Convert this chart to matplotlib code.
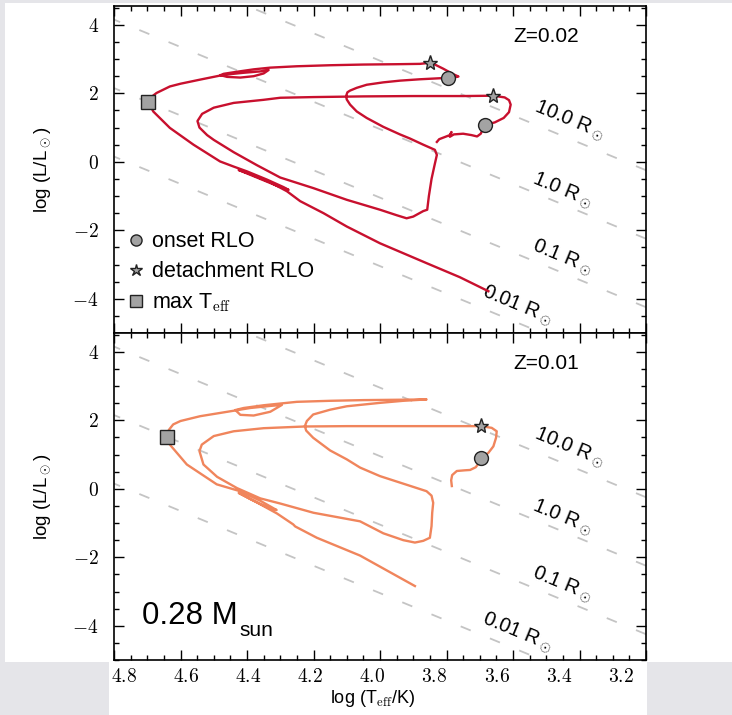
import numpy as np
import matplotlib
matplotlib.use("Agg")
import matplotlib.pyplot as plt
from matplotlib.lines import Line2D
from matplotlib.patches import Rectangle
from matplotlib.ticker import MultipleLocator, FuncFormatter

plt.rcParams['font.family'] = ['Liberation Sans', 'DejaVu Sans']
plt.rcParams['mathtext.fontset'] = 'cm'

# ---- Z=0.02 track (log Teff, log L), in order of evolution ----
teff_02 = [3.829, 3.822, 3.806, 3.790, 3.785, 3.790, 3.778, 3.750, 3.725, 3.708, 3.697, 3.690, 3.684,
           3.655, 3.628, 3.612, 3.607, 3.612, 3.625, 3.659,
           3.750, 3.900, 4.050, 4.200, 4.300, 4.350, 4.440, 4.500, 4.535, 4.549, 4.543,
           4.520, 4.500, 4.440, 4.370, 4.300, 4.200, 4.100, 4.000, 3.950, 3.920, 3.900, 3.870, 3.858,
           3.853, 3.845, 3.836, 3.829, 3.835, 3.870, 3.910, 3.940, 3.990, 4.040, 4.070, 4.090, 4.100, 4.102,
           4.098, 4.090, 4.070, 4.040, 3.990, 3.940, 3.880, 3.820, 3.795,
           3.775, 3.764, 3.780, 3.810, 3.835, 3.850,
           3.880, 3.950, 4.050, 4.150, 4.250, 4.330,
           4.380, 4.430, 4.470, 4.480, 4.460, 4.420, 4.380, 4.350, 4.335, 4.360, 4.410, 4.460, 4.480,
           4.541, 4.600, 4.632, 4.672, 4.692, 4.697,
           4.690, 4.682, 4.632, 4.561, 4.481, 4.440, 4.400, 4.340, 4.290, 4.275, 4.310, 4.370, 4.410, 4.425,
           4.390, 4.330, 4.280, 4.240, 4.200, 4.170, 4.100, 4.000, 3.860, 3.760, 3.674]
logl_02 = [0.58, 0.66, 0.72, 0.78, 0.87, 0.73, 0.80, 0.82, 0.78, 0.74, 0.82, 0.97, 1.08,
           1.15, 1.28, 1.45, 1.67, 1.80, 1.88, 1.93,
           1.92, 1.92, 1.91, 1.89, 1.87, 1.81, 1.72, 1.58, 1.40, 1.19, 1.00,
           0.78, 0.64, 0.28, -0.10, -0.46, -0.77, -1.11, -1.40, -1.56, -1.65, -1.60, -1.44, -1.40,
           -1.00, -0.50, -0.10, 0.20, 0.35, 0.50, 0.68, 0.80, 1.02, 1.28, 1.47, 1.67, 1.82, 1.92,
           2.03, 2.08, 2.16, 2.25, 2.32, 2.37, 2.41, 2.44, 2.45,
           2.47, 2.49, 2.56, 2.72, 2.84, 2.89,
           2.86, 2.85, 2.84, 2.82, 2.79, 2.75,
           2.70, 2.63, 2.57, 2.53, 2.48, 2.46, 2.50, 2.58, 2.68, 2.64, 2.60, 2.55, 2.52,
           2.40, 2.28, 2.20, 2.01, 1.86, 1.76,
           1.62, 1.47, 0.99, 0.50, 0.01, -0.14, -0.28, -0.52, -0.74, -0.82, -0.70, -0.46, -0.30, -0.24,
           -0.36, -0.60, -0.86, -1.15, -1.35, -1.50, -1.89, -2.38, -2.96, -3.37, -3.78]

# ---- Z=0.01 track ----
teff_01 = [3.784, 3.786, 3.783, 3.769, 3.745, 3.729, 3.712, 3.703, 3.697,
           3.674, 3.659, 3.651, 3.649, 3.664, 3.696,
           3.800, 3.950, 4.100, 4.226, 4.350, 4.440, 4.500, 4.536, 4.543,
           4.531, 4.490, 4.430, 4.360, 4.300, 4.200, 4.060, 3.990, 3.930, 3.895, 3.870, 3.850,
           3.845, 3.843, 3.840, 3.845, 3.860,
           3.930, 4.000, 4.060, 4.100, 4.150, 4.201, 4.222, 4.226,
           4.220, 4.201, 4.150, 4.100, 4.000, 3.930, 3.860,
           3.950, 4.050, 4.150, 4.250, 4.290,
           4.350, 4.410, 4.435, 4.420, 4.380, 4.330, 4.295, 4.330, 4.390, 4.440,
           4.541, 4.600, 4.622, 4.635, 4.642,
           4.640, 4.632, 4.581, 4.491, 4.421, 4.360, 4.311, 4.330, 4.390, 4.425,
           4.370, 4.310, 4.261, 4.255, 4.190, 4.060, 3.895]
logl_01 = [0.08, 0.25, 0.40, 0.52, 0.54, 0.55, 0.63, 0.75, 0.90,
           1.05, 1.24, 1.49, 1.68, 1.78, 1.83,
           1.83, 1.83, 1.83, 1.82, 1.77, 1.68, 1.54, 1.29, 1.10,
           0.71, 0.35, 0.02, -0.28, -0.43, -0.70, -0.95, -1.30, -1.50, -1.57, -1.52, -1.43,
           -1.09, -0.70, -0.41, -0.20, -0.07,
           0.15, 0.37, 0.62, 0.86, 1.12, 1.49, 1.70, 1.83,
           1.98, 2.17, 2.31, 2.41, 2.51, 2.57, 2.61,
           2.60, 2.59, 2.57, 2.54, 2.50,
           2.44, 2.36, 2.30, 2.16, 2.14, 2.25, 2.45, 2.42, 2.36, 2.28,
           2.12, 1.98, 1.88, 1.72, 1.51,
           1.45, 1.29, 0.71, 0.13, -0.07, -0.35, -0.62, -0.58, -0.30, -0.12,
           -0.40, -0.72, -1.04, -1.10, -1.43, -1.95, -2.84]

# event points: onset RLO, detachment RLO, max Teff
onset_02 = ([3.684, 3.795], [1.08, 2.45])
detach_02 = ([3.659, 3.850], [1.93, 2.89])
maxT_02 = ([4.697], [1.76])
onset_01 = ([3.697], [0.90])
detach_01 = ([3.696], [1.83])
maxT_01 = ([4.642], [1.51])

radii = [10.0, 1.0, 0.1, 0.01]
radius_labels = ['10.0', '1.0', '0.1', '0.01']
logTsun = 3.7617

red = '#c8102e'
orange = '#f0855c'
grey = '#a3a3a3'

fig = plt.figure(figsize=(7.32, 7.15), dpi=100)
fig.patch.set_facecolor('#e5e5e9')
fig.add_artist(Rectangle((5/732, 1-662/715), 727/732, 659/715, transform=fig.transFigure,
                         facecolor='white', edgecolor='none', zorder=-5))
fig.add_artist(Rectangle((109/732, 0), 538/732, 0.08, transform=fig.transFigure,
                         facecolor='white', edgecolor='none', zorder=-5))

ax1 = fig.add_axes([0.15574, 0.53427, 0.72678, 0.45734])
ax2 = fig.add_axes([0.15574, 0.07692, 0.72678, 0.45734])

tex = FuncFormatter(lambda v, p: r'$%g$' % v)


def setup(ax, teff, logl, col, onset, detach, maxT, ztext):
    tt = np.array([3.2, 4.8])
    for R in radii:
        ax.plot(tt, 2*np.log10(R) + 4*(tt - logTsun), color='#c4c4c4', lw=1.3,
                ls=(0, (6.0, 11.5)), zorder=1)
    label_pos = [(3.43, 1.22), (3.45, -0.83), (3.45, -2.78), (3.585, -4.19)]
    for lab, (x, y) in zip(radius_labels, label_pos):
        ax.text(x, y, lab + r' R$_\odot$', rotation=-22.4, ha='center', va='center',
                fontsize=14.5, zorder=2)
    ax.plot(teff, logl, color=col, lw=1.7, zorder=3)
    ax.plot(*onset, 'o', ms=10, mfc=grey, mec='#222222', mew=1.0, zorder=4)
    ax.plot(*detach, '*', ms=11, mfc=grey, mec='#222222', mew=1.0, zorder=4)
    ax.plot(*maxT, 's', ms=10, mfc=grey, mec='#222222', mew=1.0, zorder=4)
    ax.text(3.50, 3.65, ztext, ha='center', va='center', fontsize=15)

    ax.set_xlim(4.8, 3.2)
    ax.set_ylim(-5, 4.55)
    ax.xaxis.set_major_locator(MultipleLocator(0.2))
    ax.xaxis.set_minor_locator(MultipleLocator(0.05))
    ax.yaxis.set_major_locator(MultipleLocator(2))
    ax.yaxis.set_minor_locator(MultipleLocator(0.5))
    ax.yaxis.set_major_formatter(tex)
    ax.tick_params(which='both', direction='in', top=True, right=True, width=1.0)
    ax.tick_params(which='major', length=7)
    ax.tick_params(which='minor', length=3.5)
    ax.tick_params(axis='y', labelsize=14, pad=11)
    ax.tick_params(axis='x', labelbottom=False)
    for s in ax.spines.values():
        s.set_linewidth(1.2)
    ax.set_ylabel(r'log (L/L$_\odot$)', fontsize=13.5, labelpad=14)


setup(ax1, teff_02, logl_02, red, onset_02, detach_02, maxT_02, 'Z=0.02')
setup(ax2, teff_01, logl_01, orange, onset_01, detach_01, maxT_01, 'Z=0.01')

handles = [Line2D([], [], ls='none', marker='o', ms=8, mfc=grey, mec='#222222', label='onset RLO'),
           Line2D([], [], ls='none', marker='*', ms=9, mfc=grey, mec='#222222', label='detachment RLO'),
           Line2D([], [], ls='none', marker='s', ms=8, mfc=grey, mec='#222222',
                  label=r'max T$_{\rm eff}$')]
ax1.legend(handles=handles, loc='lower left', bbox_to_anchor=(0.0, 0.012), frameon=False,
           fontsize=15.5, handlelength=0.6, handletextpad=0.45, labelspacing=0.42,
           borderaxespad=0.3)

# tick labels on the bottom strip run on a slightly narrower scale than the frame
fwd = lambda p: 4.8 - (4.8 - 0.02857 - np.asarray(p)) / 0.9353
inv = lambda v: 4.8 - 0.02857 - (4.8 - np.asarray(v)) * 0.9353
sec = ax2.secondary_xaxis('bottom', functions=(fwd, inv))
sec.xaxis.set_major_locator(MultipleLocator(0.2))
sec.xaxis.set_major_formatter(FuncFormatter(lambda v, p: r'$%.1f$' % v))
sec.tick_params(length=0, labelsize=14, pad=6)
sec.spines['bottom'].set_visible(False)
sec.set_xlabel(r'log (T$_{\rm eff}$/K)', fontsize=13, labelpad=1, x=0.486)

t = ax2.text(4.716, -3.94, '0.28 M', fontsize=22.5, va='baseline')
ax2.annotate('sun', xy=(1, 0), xycoords=t, xytext=(1, -3.5), textcoords='offset points',
             fontsize=15, va='baseline')

fig.savefig('out.png', dpi=100, facecolor=fig.get_facecolor())
